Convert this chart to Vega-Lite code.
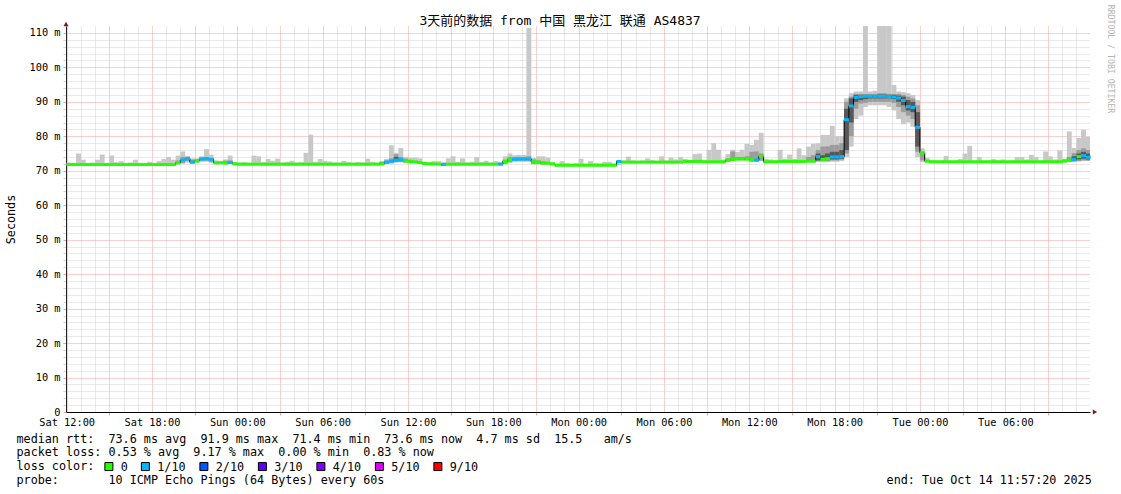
{
"$schema":"https://vega.github.io/schema/vega-lite/v6.json",
"width":1024,"height":386,
"autosize":{"type":"none"},
"padding":{"left":66,"top":26,"right":31,"bottom":82},
"background":"white",
"config":{"view":{"stroke":null},"font":"DejaVu Sans Mono"},
"title":{"text":"3天前的数据 from 中国 黑龙江 联通 AS4837","font":"DejaVu Sans Mono, Noto Sans CJK SC","fontSize":13,"fontWeight":"normal","color":"#000000","anchor":"middle","frame":"group","dx":-18,"baseline":"alphabetic","offset":-33},
"datasets":{
"xend":[{"t":"2025-10-14T11:57:20","v":0}],
"ytop":[{"t":"2025-10-11T11:57:20","v":112}],
"wm":[{"t":"2025-10-14T11:57:20","v":112,"txt":"RRDTOOL / TOBI OETIKER"}],
"light":[
{"t":"2025-10-11T12:10","v":71.5,"v2":72.4},{"t":"2025-10-11T12:30","v":71.5,"v2":72.2},{"t":"2025-10-11T12:50","v":71.5,"v2":75.0},
{"t":"2025-10-11T13:10","v":71.5,"v2":73.2},{"t":"2025-10-11T13:30","v":71.5,"v2":72.3},{"t":"2025-10-11T13:50","v":71.5,"v2":72.4},
{"t":"2025-10-11T14:10","v":71.5,"v2":73.2},{"t":"2025-10-11T14:30","v":71.5,"v2":74.7},{"t":"2025-10-11T14:50","v":71.5,"v2":72.3},
{"t":"2025-10-11T15:10","v":71.5,"v2":74.4},{"t":"2025-10-11T15:30","v":71.5,"v2":72.5},{"t":"2025-10-11T15:50","v":71.5,"v2":72.8},
{"t":"2025-10-11T16:10","v":71.5,"v2":72.3},{"t":"2025-10-11T16:30","v":71.5,"v2":72.4},{"t":"2025-10-11T16:50","v":71.5,"v2":73.2},
{"t":"2025-10-11T17:10","v":71.5,"v2":72.3},{"t":"2025-10-11T17:30","v":71.5,"v2":72.2},{"t":"2025-10-11T17:50","v":71.5,"v2":72.6},
{"t":"2025-10-11T18:10","v":71.5,"v2":72.3},{"t":"2025-10-11T18:30","v":71.5,"v2":72.8},{"t":"2025-10-11T18:50","v":71.5,"v2":73.4},
{"t":"2025-10-11T19:10","v":71.5,"v2":74.0},{"t":"2025-10-11T19:30","v":71.5,"v2":73.2},{"t":"2025-10-11T19:50","v":71.8,"v2":74.4},
{"t":"2025-10-11T20:10","v":72.0,"v2":75.6},{"t":"2025-10-11T20:30","v":72.4,"v2":74.3},{"t":"2025-10-11T20:50","v":72.0,"v2":73.6},
{"t":"2025-10-11T21:10","v":72.2,"v2":73.6},{"t":"2025-10-11T21:30","v":72.6,"v2":74.2},{"t":"2025-10-11T21:50","v":72.6,"v2":76.3},
{"t":"2025-10-11T22:10","v":72.3,"v2":74.7},{"t":"2025-10-11T22:30","v":72.0,"v2":73.0},{"t":"2025-10-11T22:50","v":72.0,"v2":72.9},
{"t":"2025-10-11T23:10","v":71.9,"v2":73.3},{"t":"2025-10-11T23:30","v":72.0,"v2":74.4},{"t":"2025-10-11T23:50","v":71.7,"v2":72.6},
{"t":"2025-10-12T00:10","v":71.6,"v2":72.4},{"t":"2025-10-12T00:30","v":71.6,"v2":72.5},{"t":"2025-10-12T00:50","v":71.6,"v2":72.3},
{"t":"2025-10-12T01:10","v":71.6,"v2":74.4},{"t":"2025-10-12T01:30","v":71.6,"v2":74.2},{"t":"2025-10-12T01:50","v":71.6,"v2":72.5},
{"t":"2025-10-12T02:10","v":71.6,"v2":73.4},{"t":"2025-10-12T02:30","v":71.6,"v2":72.9},{"t":"2025-10-12T02:50","v":71.6,"v2":73.5},
{"t":"2025-10-12T03:10","v":71.6,"v2":72.4},{"t":"2025-10-12T03:30","v":71.6,"v2":72.6},{"t":"2025-10-12T03:50","v":71.6,"v2":72.9},
{"t":"2025-10-12T04:10","v":71.6,"v2":72.4},{"t":"2025-10-12T04:30","v":71.6,"v2":72.5},{"t":"2025-10-12T04:50","v":71.6,"v2":75.2},
{"t":"2025-10-12T05:10","v":71.6,"v2":80.5},{"t":"2025-10-12T05:30","v":71.6,"v2":72.6},{"t":"2025-10-12T05:50","v":71.6,"v2":73.4},
{"t":"2025-10-12T06:10","v":71.6,"v2":72.9},{"t":"2025-10-12T06:30","v":71.6,"v2":72.7},{"t":"2025-10-12T06:50","v":71.6,"v2":72.4},
{"t":"2025-10-12T07:10","v":71.6,"v2":72.4},{"t":"2025-10-12T07:30","v":71.6,"v2":72.9},{"t":"2025-10-12T07:50","v":71.6,"v2":72.5},
{"t":"2025-10-12T08:10","v":71.6,"v2":72.3},{"t":"2025-10-12T08:30","v":71.6,"v2":72.5},{"t":"2025-10-12T08:50","v":71.6,"v2":72.4},
{"t":"2025-10-12T09:10","v":71.6,"v2":73.5},{"t":"2025-10-12T09:30","v":71.6,"v2":72.6},{"t":"2025-10-12T09:50","v":71.6,"v2":72.4},
{"t":"2025-10-12T10:10","v":71.7,"v2":72.8},{"t":"2025-10-12T10:30","v":71.9,"v2":73.4},{"t":"2025-10-12T10:50","v":72.0,"v2":77.4},
{"t":"2025-10-12T11:10","v":72.3,"v2":75.2},{"t":"2025-10-12T11:30","v":72.4,"v2":76.6},{"t":"2025-10-12T11:50","v":72.2,"v2":74.0},
{"t":"2025-10-12T12:10","v":72.2,"v2":73.8},{"t":"2025-10-12T12:30","v":72.2,"v2":73.8},{"t":"2025-10-12T12:50","v":72.0,"v2":73.6},
{"t":"2025-10-12T13:10","v":71.8,"v2":72.6},{"t":"2025-10-12T13:30","v":71.7,"v2":72.6},{"t":"2025-10-12T13:50","v":71.7,"v2":72.8},
{"t":"2025-10-12T14:10","v":71.6,"v2":72.8},{"t":"2025-10-12T14:30","v":71.6,"v2":72.5},{"t":"2025-10-12T14:50","v":71.6,"v2":73.6},
{"t":"2025-10-12T15:10","v":71.6,"v2":74.2},{"t":"2025-10-12T15:30","v":71.6,"v2":72.6},{"t":"2025-10-12T15:50","v":71.6,"v2":73.6},
{"t":"2025-10-12T16:10","v":71.6,"v2":72.4},{"t":"2025-10-12T16:30","v":71.6,"v2":72.6},{"t":"2025-10-12T16:50","v":71.6,"v2":74.0},
{"t":"2025-10-12T17:10","v":71.6,"v2":72.5},{"t":"2025-10-12T17:30","v":71.6,"v2":72.9},{"t":"2025-10-12T17:50","v":71.6,"v2":72.4},
{"t":"2025-10-12T18:10","v":71.6,"v2":72.8},{"t":"2025-10-12T18:30","v":71.6,"v2":72.6},{"t":"2025-10-12T18:50","v":71.9,"v2":74.2},
{"t":"2025-10-12T19:10","v":72.2,"v2":75.0},{"t":"2025-10-12T19:30","v":72.6,"v2":74.5},{"t":"2025-10-12T19:50","v":72.6,"v2":74.6},
{"t":"2025-10-12T20:10","v":72.6,"v2":74.6},{"t":"2025-10-12T20:30","v":72.6,"v2":111.4},{"t":"2025-10-12T20:50","v":71.8,"v2":73.7},
{"t":"2025-10-12T21:10","v":71.8,"v2":74.2},{"t":"2025-10-12T21:30","v":71.8,"v2":74.2},{"t":"2025-10-12T21:50","v":71.8,"v2":73.8},
{"t":"2025-10-12T22:10","v":71.7,"v2":72.5},{"t":"2025-10-12T22:30","v":71.3,"v2":72.1},{"t":"2025-10-12T22:50","v":71.3,"v2":72.8},
{"t":"2025-10-12T23:10","v":71.3,"v2":72.2},{"t":"2025-10-12T23:30","v":71.3,"v2":72.0},{"t":"2025-10-12T23:50","v":71.3,"v2":72.2},
{"t":"2025-10-13T00:10","v":71.3,"v2":73.5},{"t":"2025-10-13T00:30","v":71.3,"v2":72.1},{"t":"2025-10-13T00:50","v":71.3,"v2":72.8},
{"t":"2025-10-13T01:10","v":71.3,"v2":72.2},{"t":"2025-10-13T01:30","v":71.3,"v2":72.1},{"t":"2025-10-13T01:50","v":71.3,"v2":72.6},
{"t":"2025-10-13T02:10","v":71.3,"v2":72.6},{"t":"2025-10-13T02:30","v":71.3,"v2":72.1},{"t":"2025-10-13T02:50","v":71.6,"v2":73.0},
{"t":"2025-10-13T03:10","v":72.2,"v2":73.0},{"t":"2025-10-13T03:30","v":72.2,"v2":74.1},{"t":"2025-10-13T03:50","v":72.2,"v2":73.0},
{"t":"2025-10-13T04:10","v":72.2,"v2":72.9},{"t":"2025-10-13T04:30","v":72.2,"v2":73.0},{"t":"2025-10-13T04:50","v":72.2,"v2":73.6},
{"t":"2025-10-13T05:10","v":72.2,"v2":73.1},{"t":"2025-10-13T05:30","v":72.2,"v2":72.9},{"t":"2025-10-13T05:50","v":72.2,"v2":74.2},
{"t":"2025-10-13T06:10","v":72.2,"v2":73.0},{"t":"2025-10-13T06:30","v":72.2,"v2":73.8},{"t":"2025-10-13T06:50","v":72.2,"v2":73.3},
{"t":"2025-10-13T07:10","v":72.2,"v2":74.0},{"t":"2025-10-13T07:30","v":72.3,"v2":73.4},{"t":"2025-10-13T07:50","v":72.3,"v2":73.1},
{"t":"2025-10-13T08:10","v":72.3,"v2":74.8},{"t":"2025-10-13T08:30","v":72.3,"v2":75.0},{"t":"2025-10-13T08:50","v":72.3,"v2":73.2},
{"t":"2025-10-13T09:10","v":72.3,"v2":76.1},{"t":"2025-10-13T09:30","v":72.3,"v2":78.0},{"t":"2025-10-13T09:50","v":72.3,"v2":76.1},
{"t":"2025-10-13T10:10","v":72.3,"v2":73.3},{"t":"2025-10-13T10:30","v":72.6,"v2":74.8},{"t":"2025-10-13T10:50","v":72.8,"v2":76.1},
{"t":"2025-10-13T11:10","v":73.0,"v2":75.5},{"t":"2025-10-13T11:30","v":73.0,"v2":76.1},{"t":"2025-10-13T11:50","v":73.0,"v2":77.8},
{"t":"2025-10-13T12:10","v":72.6,"v2":77.5},{"t":"2025-10-13T12:30","v":72.6,"v2":79.0},{"t":"2025-10-13T12:50","v":72.8,"v2":81.0},
{"t":"2025-10-13T13:10","v":72.3,"v2":73.5},{"t":"2025-10-13T13:30","v":72.3,"v2":73.3},{"t":"2025-10-13T13:50","v":72.3,"v2":73.0},
{"t":"2025-10-13T14:10","v":72.4,"v2":76.1},{"t":"2025-10-13T14:30","v":72.4,"v2":73.5},{"t":"2025-10-13T14:50","v":72.4,"v2":74.7},
{"t":"2025-10-13T15:10","v":72.4,"v2":73.4},{"t":"2025-10-13T15:30","v":72.4,"v2":76.5},{"t":"2025-10-13T15:50","v":72.4,"v2":74.5},
{"t":"2025-10-13T16:10","v":72.4,"v2":77.0},{"t":"2025-10-13T16:30","v":72.4,"v2":77.8},{"t":"2025-10-13T16:50","v":72.5,"v2":78.0},
{"t":"2025-10-13T17:10","v":72.5,"v2":80.4},{"t":"2025-10-13T17:30","v":72.5,"v2":80.4},{"t":"2025-10-13T17:50","v":72.6,"v2":83.0},
{"t":"2025-10-13T18:10","v":72.6,"v2":80.0},{"t":"2025-10-13T18:30","v":72.8,"v2":80.0},{"t":"2025-10-13T18:50","v":74.0,"v2":91.0},
{"t":"2025-10-13T19:10","v":77.0,"v2":92.5},{"t":"2025-10-13T19:30","v":85.0,"v2":93.0},{"t":"2025-10-13T19:50","v":86.0,"v2":93.0},
{"t":"2025-10-13T20:10","v":88.5,"v2":113},{"t":"2025-10-13T20:30","v":89.0,"v2":93.0},{"t":"2025-10-13T20:50","v":89.0,"v2":93.2},
{"t":"2025-10-13T21:10","v":89.0,"v2":113},{"t":"2025-10-13T21:30","v":89.0,"v2":113},{"t":"2025-10-13T21:50","v":88.5,"v2":113},
{"t":"2025-10-13T22:10","v":87.5,"v2":94.9},{"t":"2025-10-13T22:30","v":85.0,"v2":93.0},{"t":"2025-10-13T22:50","v":83.5,"v2":92.8},
{"t":"2025-10-13T23:10","v":84.0,"v2":92.5},{"t":"2025-10-13T23:30","v":82.8,"v2":92.0},{"t":"2025-10-13T23:50","v":74.0,"v2":90.5},
{"t":"2025-10-14T00:10","v":72.5,"v2":76.5},{"t":"2025-10-14T00:30","v":72.4,"v2":73.7},{"t":"2025-10-14T00:50","v":72.3,"v2":73.2},
{"t":"2025-10-14T01:10","v":72.3,"v2":73.0},{"t":"2025-10-14T01:30","v":72.3,"v2":73.0},{"t":"2025-10-14T01:50","v":72.3,"v2":74.3},
{"t":"2025-10-14T02:10","v":72.3,"v2":72.9},{"t":"2025-10-14T02:30","v":72.3,"v2":73.0},{"t":"2025-10-14T02:50","v":72.3,"v2":73.4},
{"t":"2025-10-14T03:10","v":72.3,"v2":75.0},{"t":"2025-10-14T03:30","v":72.3,"v2":77.2},{"t":"2025-10-14T03:50","v":72.3,"v2":73.0},
{"t":"2025-10-14T04:10","v":72.3,"v2":74.0},{"t":"2025-10-14T04:30","v":72.3,"v2":73.0},{"t":"2025-10-14T04:50","v":72.3,"v2":73.0},
{"t":"2025-10-14T05:10","v":72.3,"v2":73.4},{"t":"2025-10-14T05:30","v":72.3,"v2":73.0},{"t":"2025-10-14T05:50","v":72.3,"v2":73.3},
{"t":"2025-10-14T06:10","v":72.3,"v2":72.9},{"t":"2025-10-14T06:30","v":72.3,"v2":73.0},{"t":"2025-10-14T06:50","v":72.3,"v2":74.0},
{"t":"2025-10-14T07:10","v":72.3,"v2":74.0},{"t":"2025-10-14T07:30","v":72.3,"v2":73.3},{"t":"2025-10-14T07:50","v":72.3,"v2":74.6},
{"t":"2025-10-14T08:10","v":72.3,"v2":74.0},{"t":"2025-10-14T08:30","v":72.3,"v2":73.0},{"t":"2025-10-14T08:50","v":72.3,"v2":75.6},
{"t":"2025-10-14T09:10","v":72.3,"v2":74.2},{"t":"2025-10-14T09:30","v":72.3,"v2":73.3},{"t":"2025-10-14T09:50","v":72.3,"v2":75.9},
{"t":"2025-10-14T10:10","v":72.4,"v2":73.5},{"t":"2025-10-14T10:30","v":72.5,"v2":81.4},{"t":"2025-10-14T10:50","v":72.6,"v2":76.6},
{"t":"2025-10-14T11:10","v":72.7,"v2":79.5},{"t":"2025-10-14T11:30","v":72.8,"v2":81.9},{"t":"2025-10-14T11:50","v":72.8,"v2":79.9}
],
"mid":[
{"t":"2025-10-11T19:50","v":72.0,"v2":73.0},{"t":"2025-10-11T20:10","v":72.3,"v2":74.0},{"t":"2025-10-11T20:30","v":72.8,"v2":74.0},
{"t":"2025-10-11T20:50","v":72.2,"v2":73.2},{"t":"2025-10-11T21:10","v":72.5,"v2":73.3},{"t":"2025-10-11T21:30","v":72.9,"v2":73.9},
{"t":"2025-10-11T21:50","v":72.9,"v2":74.0},{"t":"2025-10-11T22:10","v":72.6,"v2":73.8},{"t":"2025-10-11T23:10","v":72.0,"v2":72.9},
{"t":"2025-10-11T23:30","v":72.1,"v2":73.0},
{"t":"2025-10-12T10:10","v":71.8,"v2":72.6},{"t":"2025-10-12T10:30","v":72.0,"v2":73.0},{"t":"2025-10-12T10:50","v":72.3,"v2":73.6},
{"t":"2025-10-12T11:10","v":72.6,"v2":74.8},{"t":"2025-10-12T11:30","v":72.6,"v2":74.0},{"t":"2025-10-12T11:50","v":72.4,"v2":73.5},
{"t":"2025-10-12T12:10","v":72.3,"v2":73.2},
{"t":"2025-10-12T18:50","v":72.0,"v2":73.2},{"t":"2025-10-12T19:10","v":72.5,"v2":74.0},{"t":"2025-10-12T19:30","v":72.8,"v2":74.0},
{"t":"2025-10-12T19:50","v":72.9,"v2":74.0},{"t":"2025-10-12T20:10","v":72.9,"v2":74.0},{"t":"2025-10-12T20:30","v":72.9,"v2":74.2},
{"t":"2025-10-12T20:50","v":72.0,"v2":73.3},{"t":"2025-10-12T21:10","v":72.0,"v2":73.0},{"t":"2025-10-12T21:30","v":71.9,"v2":72.8},
{"t":"2025-10-13T10:30","v":72.7,"v2":73.6},{"t":"2025-10-13T10:50","v":72.9,"v2":75.6},{"t":"2025-10-13T11:10","v":73.1,"v2":74.0},
{"t":"2025-10-13T11:30","v":73.1,"v2":74.0},{"t":"2025-10-13T11:50","v":73.1,"v2":74.2},{"t":"2025-10-13T12:10","v":72.7,"v2":75.5},
{"t":"2025-10-13T12:30","v":72.7,"v2":75.6},{"t":"2025-10-13T12:50","v":72.9,"v2":75.0},
{"t":"2025-10-13T16:10","v":72.5,"v2":74.0},{"t":"2025-10-13T16:30","v":72.5,"v2":74.5},{"t":"2025-10-13T16:50","v":72.8,"v2":76.0},
{"t":"2025-10-13T17:10","v":72.8,"v2":77.0},{"t":"2025-10-13T17:30","v":72.8,"v2":77.1},{"t":"2025-10-13T17:50","v":73.0,"v2":77.5},
{"t":"2025-10-13T18:10","v":73.0,"v2":77.5},{"t":"2025-10-13T18:30","v":73.2,"v2":78.0},{"t":"2025-10-13T18:50","v":75.0,"v2":90.0},
{"t":"2025-10-13T19:10","v":80.0,"v2":91.5},{"t":"2025-10-13T19:30","v":88.0,"v2":92.3},{"t":"2025-10-13T19:50","v":89.5,"v2":92.3},
{"t":"2025-10-13T20:10","v":89.7,"v2":92.3},{"t":"2025-10-13T20:30","v":90.0,"v2":92.3},{"t":"2025-10-13T20:50","v":90.0,"v2":92.3},
{"t":"2025-10-13T21:10","v":90.0,"v2":92.5},{"t":"2025-10-13T21:30","v":90.0,"v2":92.5},{"t":"2025-10-13T21:50","v":90.0,"v2":92.3},
{"t":"2025-10-13T22:10","v":89.7,"v2":92.3},{"t":"2025-10-13T22:30","v":88.5,"v2":92.3},{"t":"2025-10-13T22:50","v":87.0,"v2":92.0},
{"t":"2025-10-13T23:10","v":86.0,"v2":91.5},{"t":"2025-10-13T23:30","v":85.0,"v2":91.0},{"t":"2025-10-13T23:50","v":75.5,"v2":89.0},
{"t":"2025-10-14T00:10","v":73.0,"v2":75.5},
{"t":"2025-10-14T10:10","v":72.6,"v2":73.2},{"t":"2025-10-14T10:30","v":72.6,"v2":74.0},{"t":"2025-10-14T10:50","v":72.7,"v2":75.1},
{"t":"2025-10-14T11:10","v":72.8,"v2":76.0},{"t":"2025-10-14T11:30","v":73.0,"v2":76.5},{"t":"2025-10-14T11:50","v":73.0,"v2":76.0}
],
"dark":[
{"t":"2025-10-12T11:10","v":72.8,"v2":74.0},
{"t":"2025-10-13T16:50","v":73.0,"v2":75.0},{"t":"2025-10-13T17:10","v":73.0,"v2":74.5},{"t":"2025-10-13T17:30","v":73.1,"v2":75.0},
{"t":"2025-10-13T17:50","v":73.3,"v2":75.5},{"t":"2025-10-13T18:10","v":73.3,"v2":75.5},{"t":"2025-10-13T18:30","v":73.5,"v2":76.0},
{"t":"2025-10-13T18:50","v":76.0,"v2":88.0},{"t":"2025-10-13T19:10","v":84.0,"v2":91.0},{"t":"2025-10-13T19:30","v":90.0,"v2":92.0},
{"t":"2025-10-13T19:50","v":90.5,"v2":92.0},{"t":"2025-10-13T20:10","v":90.8,"v2":92.0},{"t":"2025-10-13T20:30","v":91.0,"v2":92.0},
{"t":"2025-10-13T20:50","v":91.0,"v2":92.0},{"t":"2025-10-13T21:10","v":91.0,"v2":92.1},{"t":"2025-10-13T21:30","v":91.0,"v2":92.1},
{"t":"2025-10-13T21:50","v":91.0,"v2":92.0},{"t":"2025-10-13T22:10","v":90.8,"v2":92.0},{"t":"2025-10-13T22:30","v":90.0,"v2":91.8},
{"t":"2025-10-13T22:50","v":89.0,"v2":91.5},{"t":"2025-10-13T23:10","v":87.5,"v2":90.5},{"t":"2025-10-13T23:30","v":87.0,"v2":90.0},
{"t":"2025-10-13T23:50","v":77.0,"v2":87.0},
{"t":"2025-10-14T10:50","v":72.9,"v2":74.2},{"t":"2025-10-14T11:10","v":73.3,"v2":75.0},{"t":"2025-10-14T11:30","v":73.5,"v2":75.5},
{"t":"2025-10-14T11:50","v":73.3,"v2":75.0}
],
"med":[
{"t":"2025-10-11T12:10","v":71.8,"l":"0"},{"t":"2025-10-11T12:30","v":71.8,"l":"0"},{"t":"2025-10-11T12:50","v":71.8,"l":"0"},
{"t":"2025-10-11T13:10","v":71.8,"l":"0"},{"t":"2025-10-11T13:30","v":71.8,"l":"0"},{"t":"2025-10-11T13:50","v":71.8,"l":"0"},
{"t":"2025-10-11T14:10","v":71.8,"l":"0"},{"t":"2025-10-11T14:30","v":71.8,"l":"0"},{"t":"2025-10-11T14:50","v":71.8,"l":"0"},
{"t":"2025-10-11T15:10","v":71.8,"l":"0"},{"t":"2025-10-11T15:30","v":71.8,"l":"0"},{"t":"2025-10-11T15:50","v":71.8,"l":"0"},
{"t":"2025-10-11T16:10","v":71.8,"l":"0"},{"t":"2025-10-11T16:30","v":71.8,"l":"0"},{"t":"2025-10-11T16:50","v":71.8,"l":"0"},
{"t":"2025-10-11T17:10","v":71.8,"l":"0"},{"t":"2025-10-11T17:30","v":71.8,"l":"0"},{"t":"2025-10-11T17:50","v":71.8,"l":"0"},
{"t":"2025-10-11T18:10","v":71.8,"l":"0"},{"t":"2025-10-11T18:30","v":71.8,"l":"0"},{"t":"2025-10-11T18:50","v":71.8,"l":"0"},
{"t":"2025-10-11T19:10","v":71.8,"l":"0"},{"t":"2025-10-11T19:30","v":71.8,"l":"0"},{"t":"2025-10-11T19:50","v":72.3,"l":"0"},
{"t":"2025-10-11T20:10","v":73.1,"l":"1/10"},{"t":"2025-10-11T20:30","v":73.5,"l":"1/10"},{"t":"2025-10-11T20:50","v":72.5,"l":"1/10"},
{"t":"2025-10-11T21:10","v":72.9,"l":"0"},{"t":"2025-10-11T21:30","v":73.4,"l":"1/10"},{"t":"2025-10-11T21:50","v":73.5,"l":"1/10"},
{"t":"2025-10-11T22:10","v":73.3,"l":"1/10"},{"t":"2025-10-11T22:30","v":72.3,"l":"0"},{"t":"2025-10-11T22:50","v":72.3,"l":"0"},
{"t":"2025-10-11T23:10","v":72.2,"l":"0"},{"t":"2025-10-11T23:30","v":72.4,"l":"1/10"},{"t":"2025-10-11T23:50","v":72.0,"l":"0"},
{"t":"2025-10-12T00:10","v":71.9,"l":"0"},{"t":"2025-10-12T00:30","v":71.9,"l":"0"},{"t":"2025-10-12T00:50","v":71.9,"l":"0"},
{"t":"2025-10-12T01:10","v":71.9,"l":"0"},{"t":"2025-10-12T01:30","v":71.9,"l":"0"},{"t":"2025-10-12T01:50","v":71.9,"l":"0"},
{"t":"2025-10-12T02:10","v":71.9,"l":"0"},{"t":"2025-10-12T02:30","v":71.9,"l":"0"},{"t":"2025-10-12T02:50","v":71.9,"l":"0"},
{"t":"2025-10-12T03:10","v":71.9,"l":"0"},{"t":"2025-10-12T03:30","v":71.9,"l":"0"},{"t":"2025-10-12T03:50","v":71.9,"l":"0"},
{"t":"2025-10-12T04:10","v":71.9,"l":"0"},{"t":"2025-10-12T04:30","v":71.9,"l":"0"},{"t":"2025-10-12T04:50","v":71.9,"l":"0"},
{"t":"2025-10-12T05:10","v":71.9,"l":"0"},{"t":"2025-10-12T05:30","v":71.9,"l":"0"},{"t":"2025-10-12T05:50","v":71.9,"l":"0"},
{"t":"2025-10-12T06:10","v":71.9,"l":"0"},{"t":"2025-10-12T06:30","v":71.9,"l":"0"},{"t":"2025-10-12T06:50","v":71.9,"l":"0"},
{"t":"2025-10-12T07:10","v":71.9,"l":"0"},{"t":"2025-10-12T07:30","v":71.9,"l":"0"},{"t":"2025-10-12T07:50","v":71.9,"l":"0"},
{"t":"2025-10-12T08:10","v":71.9,"l":"0"},{"t":"2025-10-12T08:30","v":71.9,"l":"0"},{"t":"2025-10-12T08:50","v":71.9,"l":"0"},
{"t":"2025-10-12T09:10","v":71.9,"l":"0"},{"t":"2025-10-12T09:30","v":71.9,"l":"0"},{"t":"2025-10-12T09:50","v":71.9,"l":"0"},
{"t":"2025-10-12T10:10","v":72.0,"l":"0"},{"t":"2025-10-12T10:30","v":72.5,"l":"1/10"},{"t":"2025-10-12T10:50","v":72.8,"l":"1/10"},
{"t":"2025-10-12T11:10","v":73.1,"l":"1/10"},{"t":"2025-10-12T11:30","v":73.2,"l":"1/10"},{"t":"2025-10-12T11:50","v":72.9,"l":"0"},
{"t":"2025-10-12T12:10","v":72.6,"l":"0"},{"t":"2025-10-12T12:30","v":72.6,"l":"0"},{"t":"2025-10-12T12:50","v":72.4,"l":"0"},
{"t":"2025-10-12T13:10","v":72.1,"l":"0"},{"t":"2025-10-12T13:30","v":72.0,"l":"0"},{"t":"2025-10-12T13:50","v":72.0,"l":"0"},
{"t":"2025-10-12T14:10","v":71.9,"l":"0"},{"t":"2025-10-12T14:30","v":71.8,"l":"1/10"},{"t":"2025-10-12T14:50","v":71.9,"l":"0"},
{"t":"2025-10-12T15:10","v":71.9,"l":"0"},{"t":"2025-10-12T15:30","v":71.9,"l":"0"},{"t":"2025-10-12T15:50","v":71.9,"l":"0"},
{"t":"2025-10-12T16:10","v":71.9,"l":"0"},{"t":"2025-10-12T16:30","v":71.9,"l":"0"},{"t":"2025-10-12T16:50","v":71.9,"l":"0"},
{"t":"2025-10-12T17:10","v":71.9,"l":"0"},{"t":"2025-10-12T17:30","v":71.9,"l":"0"},{"t":"2025-10-12T17:50","v":71.9,"l":"0"},
{"t":"2025-10-12T18:10","v":71.9,"l":"0"},{"t":"2025-10-12T18:30","v":71.9,"l":"1/10"},{"t":"2025-10-12T18:50","v":72.7,"l":"0"},
{"t":"2025-10-12T19:10","v":73.2,"l":"0"},{"t":"2025-10-12T19:30","v":73.3,"l":"1/10"},{"t":"2025-10-12T19:50","v":73.4,"l":"1/10"},
{"t":"2025-10-12T20:10","v":73.4,"l":"1/10"},{"t":"2025-10-12T20:30","v":73.4,"l":"1/10"},{"t":"2025-10-12T20:50","v":72.6,"l":"0"},
{"t":"2025-10-12T21:10","v":72.5,"l":"0"},{"t":"2025-10-12T21:30","v":72.2,"l":"0"},{"t":"2025-10-12T21:50","v":72.2,"l":"0"},
{"t":"2025-10-12T22:10","v":72.0,"l":"0"},{"t":"2025-10-12T22:30","v":71.6,"l":"0"},{"t":"2025-10-12T22:50","v":71.6,"l":"0"},
{"t":"2025-10-12T23:10","v":71.6,"l":"0"},{"t":"2025-10-12T23:30","v":71.6,"l":"0"},{"t":"2025-10-12T23:50","v":71.6,"l":"0"},
{"t":"2025-10-13T00:10","v":71.6,"l":"0"},{"t":"2025-10-13T00:30","v":71.6,"l":"0"},{"t":"2025-10-13T00:50","v":71.6,"l":"0"},
{"t":"2025-10-13T01:10","v":71.6,"l":"0"},{"t":"2025-10-13T01:30","v":71.6,"l":"0"},{"t":"2025-10-13T01:50","v":71.6,"l":"0"},
{"t":"2025-10-13T02:10","v":71.6,"l":"0"},{"t":"2025-10-13T02:30","v":71.6,"l":"0"},{"t":"2025-10-13T02:50","v":72.7,"l":"1/10"},
{"t":"2025-10-13T03:10","v":72.5,"l":"0"},{"t":"2025-10-13T03:30","v":72.5,"l":"0"},{"t":"2025-10-13T03:50","v":72.5,"l":"0"},
{"t":"2025-10-13T04:10","v":72.5,"l":"0"},{"t":"2025-10-13T04:30","v":72.5,"l":"0"},{"t":"2025-10-13T04:50","v":72.5,"l":"0"},
{"t":"2025-10-13T05:10","v":72.5,"l":"0"},{"t":"2025-10-13T05:30","v":72.5,"l":"0"},{"t":"2025-10-13T05:50","v":72.5,"l":"0"},
{"t":"2025-10-13T06:10","v":72.5,"l":"0"},{"t":"2025-10-13T06:30","v":72.5,"l":"0"},{"t":"2025-10-13T06:50","v":72.5,"l":"0"},
{"t":"2025-10-13T07:10","v":72.5,"l":"0"},{"t":"2025-10-13T07:30","v":72.7,"l":"0"},{"t":"2025-10-13T07:50","v":72.7,"l":"0"},
{"t":"2025-10-13T08:10","v":72.7,"l":"0"},{"t":"2025-10-13T08:30","v":72.7,"l":"0"},{"t":"2025-10-13T08:50","v":72.6,"l":"0"},
{"t":"2025-10-13T09:10","v":72.6,"l":"0"},{"t":"2025-10-13T09:30","v":72.6,"l":"0"},{"t":"2025-10-13T09:50","v":72.6,"l":"0"},
{"t":"2025-10-13T10:10","v":72.6,"l":"0"},{"t":"2025-10-13T10:30","v":73.1,"l":"0"},{"t":"2025-10-13T10:50","v":73.3,"l":"0"},
{"t":"2025-10-13T11:10","v":73.4,"l":"0"},{"t":"2025-10-13T11:30","v":73.4,"l":"0"},{"t":"2025-10-13T11:50","v":73.4,"l":"0"},
{"t":"2025-10-13T12:10","v":73.2,"l":"0"},{"t":"2025-10-13T12:30","v":73.1,"l":"1/10"},{"t":"2025-10-13T12:50","v":74.2,"l":"0"},
{"t":"2025-10-13T13:10","v":72.6,"l":"0"},{"t":"2025-10-13T13:30","v":72.6,"l":"0"},{"t":"2025-10-13T13:50","v":72.6,"l":"0"},
{"t":"2025-10-13T14:10","v":72.7,"l":"0"},{"t":"2025-10-13T14:30","v":72.7,"l":"0"},{"t":"2025-10-13T14:50","v":72.7,"l":"0"},
{"t":"2025-10-13T15:10","v":72.7,"l":"0"},{"t":"2025-10-13T15:30","v":72.7,"l":"0"},{"t":"2025-10-13T15:50","v":72.7,"l":"0"},
{"t":"2025-10-13T16:10","v":72.8,"l":"0"},{"t":"2025-10-13T16:30","v":72.8,"l":"0"},{"t":"2025-10-13T16:50","v":74.1,"l":"1/10"},
{"t":"2025-10-13T17:10","v":73.3,"l":"0"},{"t":"2025-10-13T17:30","v":73.5,"l":"0"},{"t":"2025-10-13T17:50","v":74.0,"l":"1/10"},
{"t":"2025-10-13T18:10","v":74.0,"l":"1/10"},{"t":"2025-10-13T18:30","v":74.1,"l":"1/10"},{"t":"2025-10-13T18:50","v":84.8,"l":"1/10"},
{"t":"2025-10-13T19:10","v":88.8,"l":"1/10"},{"t":"2025-10-13T19:30","v":91.3,"l":"1/10"},{"t":"2025-10-13T19:50","v":91.5,"l":"1/10"},
{"t":"2025-10-13T20:10","v":91.6,"l":"1/10"},{"t":"2025-10-13T20:30","v":91.6,"l":"1/10"},{"t":"2025-10-13T20:50","v":91.6,"l":"1/10"},
{"t":"2025-10-13T21:10","v":91.6,"l":"1/10"},{"t":"2025-10-13T21:30","v":91.6,"l":"1/10"},{"t":"2025-10-13T21:50","v":91.5,"l":"1/10"},
{"t":"2025-10-13T22:10","v":91.4,"l":"1/10"},{"t":"2025-10-13T22:30","v":91.1,"l":"1/10"},{"t":"2025-10-13T22:50","v":90.4,"l":"1/10"},
{"t":"2025-10-13T23:10","v":88.6,"l":"1/10"},{"t":"2025-10-13T23:30","v":88.4,"l":"1/10"},{"t":"2025-10-13T23:50","v":82.6,"l":"1/10"},
{"t":"2025-10-14T00:10","v":75.2,"l":"0"},{"t":"2025-10-14T00:30","v":72.8,"l":"0"},{"t":"2025-10-14T00:50","v":72.6,"l":"0"},
{"t":"2025-10-14T01:10","v":72.6,"l":"0"},{"t":"2025-10-14T01:30","v":72.6,"l":"0"},{"t":"2025-10-14T01:50","v":72.6,"l":"0"},
{"t":"2025-10-14T02:10","v":72.6,"l":"0"},{"t":"2025-10-14T02:30","v":72.6,"l":"0"},{"t":"2025-10-14T02:50","v":72.6,"l":"0"},
{"t":"2025-10-14T03:10","v":72.6,"l":"0"},{"t":"2025-10-14T03:30","v":72.6,"l":"0"},{"t":"2025-10-14T03:50","v":72.6,"l":"0"},
{"t":"2025-10-14T04:10","v":72.6,"l":"0"},{"t":"2025-10-14T04:30","v":72.6,"l":"0"},{"t":"2025-10-14T04:50","v":72.6,"l":"0"},
{"t":"2025-10-14T05:10","v":72.6,"l":"0"},{"t":"2025-10-14T05:30","v":72.6,"l":"0"},{"t":"2025-10-14T05:50","v":72.6,"l":"0"},
{"t":"2025-10-14T06:10","v":72.6,"l":"0"},{"t":"2025-10-14T06:30","v":72.6,"l":"0"},{"t":"2025-10-14T06:50","v":72.6,"l":"0"},
{"t":"2025-10-14T07:10","v":72.6,"l":"0"},{"t":"2025-10-14T07:30","v":72.6,"l":"0"},{"t":"2025-10-14T07:50","v":72.6,"l":"0"},
{"t":"2025-10-14T08:10","v":72.6,"l":"0"},{"t":"2025-10-14T08:30","v":72.6,"l":"0"},{"t":"2025-10-14T08:50","v":72.6,"l":"0"},
{"t":"2025-10-14T09:10","v":72.6,"l":"0"},{"t":"2025-10-14T09:30","v":72.6,"l":"0"},{"t":"2025-10-14T09:50","v":72.6,"l":"0"},
{"t":"2025-10-14T10:10","v":72.8,"l":"0"},{"t":"2025-10-14T10:30","v":73.1,"l":"0"},{"t":"2025-10-14T10:50","v":73.3,"l":"1/10"},
{"t":"2025-10-14T11:10","v":74.1,"l":"0"},{"t":"2025-10-14T11:30","v":74.4,"l":"1/10"},{"t":"2025-10-14T11:50","v":73.9,"l":"1/10"}
]},
"encoding":{
 "x":{"field":"t","type":"temporal",
  "scale":{"domain":[{"year":2025,"month":10,"date":11,"hours":11,"minutes":57,"seconds":20},{"year":2025,"month":10,"date":14,"hours":11,"minutes":57,"seconds":20}],"nice":false,"padding":0},
  "axis":{"orient":"bottom","tickCount":72,
   "grid":true,"gridDash":[1,1],"gridWidth":1,
   "gridColor":{"condition":{"test":"hours(datum.value) % 3 === 0","value":"#f2a0a0"},"value":"#d2d2d2"},
   "ticks":true,"tickSize":3,"tickWidth":1,
   "tickColor":{"condition":{"test":"hours(datum.value) % 6 === 3","value":"#f2a0a0"},"value":"#ffffff"},
   "domain":true,"domainColor":"#000000","domainWidth":1,
   "labelExpr":"hours(datum.value) % 6 === 0 ? timeFormat(datum.value, '%a %H:%M') : ''",
   "labelFont":"DejaVu Sans Mono","labelFontSize":10.3,"labelColor":"#000000","labelPadding":2,"labelFlush":false,"labelOverlap":false,"labelAngle":0,
   "title":[
    "median\u00a0rtt:\u00a0\u00a073.6\u00a0ms\u00a0avg\u00a0\u00a091.9\u00a0ms\u00a0max\u00a0\u00a071.4\u00a0ms\u00a0min\u00a0\u00a073.6\u00a0ms\u00a0now\u00a0\u00a04.7\u00a0ms\u00a0sd\u00a0\u00a015.5\u00a0\u00a0\u00a0am/s",
    "packet\u00a0loss:\u00a00.53\u00a0%\u00a0avg\u00a0\u00a09.17\u00a0%\u00a0max\u00a0\u00a00.00\u00a0%\u00a0min\u00a0\u00a00.83\u00a0%\u00a0now",
    "loss\u00a0color:",
    "probe:\u00a0\u00a0\u00a0\u00a0\u00a0\u00a0\u00a010\u00a0ICMP\u00a0Echo\u00a0Pings\u00a0(64\u00a0Bytes)\u00a0every\u00a060s\u00a0\u00a0\u00a0\u00a0\u00a0\u00a0\u00a0\u00a0\u00a0\u00a0\u00a0\u00a0\u00a0\u00a0\u00a0\u00a0\u00a0\u00a0\u00a0\u00a0\u00a0\u00a0\u00a0\u00a0\u00a0\u00a0\u00a0\u00a0\u00a0\u00a0\u00a0\u00a0\u00a0\u00a0\u00a0\u00a0\u00a0\u00a0\u00a0\u00a0\u00a0\u00a0\u00a0\u00a0\u00a0\u00a0\u00a0\u00a0\u00a0\u00a0\u00a0\u00a0\u00a0\u00a0\u00a0\u00a0\u00a0\u00a0\u00a0\u00a0\u00a0\u00a0\u00a0\u00a0\u00a0\u00a0\u00a0\u00a0\u00a0\u00a0\u00a0end:\u00a0Tue\u00a0Oct\u00a014\u00a011:57:20\u00a02025"
   ],
   "titleFont":"DejaVu Sans Mono","titleFontSize":11.76,"titleFontWeight":"normal","titleColor":"#000000",
   "titleAlign":"left","titleX":-50,"titleY":30,"titleBaseline":"alphabetic","titleLineHeight":13.9}},
 "y":{"field":"v","type":"quantitative","scale":{"domain":[0,112],"nice":false,"zero":false,"padding":0},
  "axis":{"orient":"left",
   "values":[0,2,4,6,8,10,12,14,16,18,20,22,24,26,28,30,32,34,36,38,40,42,44,46,48,50,52,54,56,58,60,62,64,66,68,70,72,74,76,78,80,82,84,86,88,90,92,94,96,98,100,102,104,106,108,110],
   "grid":true,"gridDash":[1,1],"gridWidth":1,
   "gridColor":{"condition":{"test":"datum.value % 10 === 0","value":"#f2a0a0"},"value":"#d2d2d2"},
   "ticks":true,"tickSize":3,"tickWidth":1,
   "tickColor":{"condition":{"test":"datum.value % 10 === 0","value":"#f2a0a0"},"value":"#d2d2d2"},
   "domain":true,"domainColor":"#2a2020","domainWidth":1,
   "labelExpr":"datum.value % 10 === 0 ? (datum.value === 0 ? '0' : datum.value + ' m') : ''",
   "labelFont":"DejaVu Sans Mono","labelFontSize":10.3,"labelColor":"#000000","labelPadding":3,"labelOverlap":false,"labelFlush":false,
   "title":"Seconds","titleFont":"DejaVu Sans Mono","titleFontSize":11.76,"titleFontWeight":"normal","titleColor":"#000000",
   "titleAngle":270,"titleX":-56,"titleY":193,"titleAlign":"center","titleBaseline":"middle"}}
},
"layer":[
{"data":{"name":"light"},"mark":{"type":"bar","width":4.9,"color":"#c8c8c8","clip":true},"encoding":{"y2":{"field":"v2"}}},
{"data":{"name":"mid"},"mark":{"type":"bar","width":4.9,"color":"#9c9c9c","clip":true},"encoding":{"y2":{"field":"v2"}}},
{"data":{"name":"dark"},"mark":{"type":"bar","width":4.9,"color":"#585858","clip":true},"encoding":{"y2":{"field":"v2"}}},
{"data":{"name":"med"},"mark":{"type":"line","interpolate":"step","color":"#000000","strokeWidth":1}},
{"data":{"name":"med"},"mark":{"type":"tick","orient":"horizontal","size":4.9,"thickness":3,"opacity":1},
 "encoding":{"color":{"field":"l","type":"nominal",
   "scale":{"domain":["0","1/10","2/10","3/10","4/10","5/10","9/10"],"range":["#26ff00","#00b8ff","#0059ff","#5e00ff","#7e00ff","#dd00ff","#ff0000"]},
   "legend":{"orient":"none","legendX":37,"legendY":434.5,"direction":"horizontal","columns":7,"title":null,
    "symbolType":"square","symbolSize":64,"symbolStrokeColor":"#000000","symbolStrokeWidth":1,"symbolOpacity":1,
    "labelFont":"DejaVu Sans Mono","labelFontSize":11.76,"labelColor":"#000000","labelOffset":6,"columnPadding":10.5,"padding":0}}}},
{"data":{"name":"xend"},"mark":{"type":"point","shape":"triangle-right","filled":true,"color":"#7d1a1a","size":25,"opacity":1,"xOffset":5}},
{"data":{"name":"ytop"},"mark":{"type":"point","shape":"triangle-up","filled":true,"color":"#7d1a1a","size":25,"opacity":1,"yOffset":-2}},
{"data":{"name":"wm"},"mark":{"type":"text","angle":90,"align":"center","baseline":"middle","font":"DejaVu Sans Mono","fontSize":8.2,"color":"#b4b4b4","xOffset":19.5,"yOffset":33},
 "encoding":{"text":{"field":"txt"}}}
]
}
